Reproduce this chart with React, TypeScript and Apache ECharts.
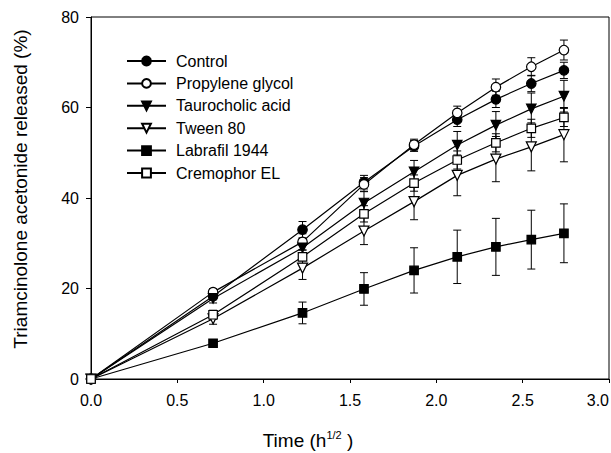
import React, { useEffect, useRef } from "react";
import * as echarts from "echarts";

const times = [0, 0.707, 1.225, 1.581, 1.871, 2.121, 2.345, 2.55, 2.739];
const seriesNames = ["Control", "Propylene glycol", "Taurocholic acid", "Tween 80", "Labrafil 1944", "Cremophor EL"];
const control = [0, 18.3, 33, 43.5, 51.5, 57.3, 61.8, 65.3, 68.2];
const controlSd = [0, 0.8, 1.8, 1.5, 1.2, 1.5, 1.8, 1.8, 1.8];
const propylene = [0, 19.2, 30.3, 43, 51.8, 58.8, 64.5, 69, 72.7];
const propyleneSd = [0, 0.8, 1.8, 1.5, 1.2, 1.5, 1.8, 2, 2.2];
const tauro = [0, 17.8, 29, 38.9, 45.8, 51.7, 56.1, 59.7, 62.5];
const tauroSd = [0, 1, 2, 2.5, 2.5, 3, 3, 3.5, 3.5];
const tween = [0, 13.3, 24.5, 32.7, 39.2, 45, 48.6, 51.3, 54];
const tweenSd = [0, 1.2, 2.5, 3, 4, 4.5, 5, 5.3, 6];
const labrafil = [0, 7.9, 14.6, 19.9, 24, 27, 29.2, 30.8, 32.2];
const labrafilSd = [0, 0.5, 2.4, 3.6, 5, 5.9, 6.3, 6.5, 6.5];
const cremophor = [0, 14.2, 27, 36.5, 43.3, 48.4, 52.2, 55.4, 57.8];
const cremophorSd = [0, 1, 1.5, 1.8, 1.8, 2, 2, 2, 2];
const xTicks = [0, 0.5, 1, 1.5, 2, 2.5, 3];
const yTicks = [0, 20, 40, 60, 80];

const FONT = "Liberation Sans, Arial, sans-serif";

export default function App() {
  const ref = useRef<HTMLDivElement>(null);
  useEffect(() => {
    document.body.style.margin = "0";
    const chart = echarts.init(ref.current!, null, { renderer: "svg" });
    const values = [control, propylene, tauro, tween, labrafil, cremophor];
    const sds = [controlSd, propyleneSd, tauroSd, tweenSd, labrafilSd, cremophorSd];
    const markers = [
      { symbol: "circle", fill: "#000", rotate: 0, size: 9.5 },
      { symbol: "circle", fill: "#fff", rotate: 0, size: 9.5 },
      { symbol: "triangle", fill: "#000", rotate: 180, size: 9.5 },
      { symbol: "triangle", fill: "#fff", rotate: 180, size: 10 },
      { symbol: "rect", fill: "#000", rotate: 0, size: 8.5 },
      { symbol: "rect", fill: "#fff", rotate: 0, size: 8.5 },
    ];
    const errSeries = seriesNames.map((n, i) => ({
      type: "custom",
      name: "err-" + n,
      z: 1,
      silent: true,
      encode: { x: 0, y: 1 },
      data: times.map((t, j) => [t, values[i][j], sds[i][j]]),
      renderItem: (params: any, api: any) => {
        const x = api.value(0);
        const y = api.value(1);
        const e = api.value(2);
        if (!e) return null;
        const top = api.coord([x, y + e]);
        const bot = api.coord([x, y - e]);
        const w = 4;
        const st = { stroke: "#000", lineWidth: 1 };
        return {
          type: "group",
          children: [
            { type: "line", shape: { x1: top[0], y1: top[1], x2: bot[0], y2: bot[1] }, style: st },
            { type: "line", shape: { x1: top[0] - w, y1: top[1], x2: top[0] + w, y2: top[1] }, style: st },
            { type: "line", shape: { x1: bot[0] - w, y1: bot[1], x2: bot[0] + w, y2: bot[1] }, style: st },
          ],
        };
      },
    }));
    const lineSeries = seriesNames.map((n, i) => ({
      type: "line",
      name: n,
      z: 2 + i,
      data: times.map((t, j) => [t, values[i][j]]),
      symbol: markers[i].symbol,
      symbolSize: markers[i].size,
      symbolRotate: markers[i].rotate,
      showAllSymbol: true,
      lineStyle: { color: "#000", width: 1.2 },
      itemStyle: { color: markers[i].fill, borderColor: "#000", borderWidth: 1.2 },
      emphasis: { disabled: true },
    }));
    chart.setOption({
      animation: false,
      grid: {
        left: 91,
        right: 2,
        top: 17,
        bottom: 74,
        show: true,
        borderColor: "#000",
        borderWidth: 1,
        containLabel: false,
        outerBoundsMode: "none",
      },
      legend: {
        data: seriesNames,
        orient: "vertical",
        left: 121,
        top: 48,
        itemWidth: 39,
        itemHeight: 11,
        itemGap: 6.4,
        textStyle: { fontFamily: FONT, fontSize: 16, color: "#000", padding: [0, 0, 0, 5], lineHeight: 16 },
      },
      xAxis: {
        type: "value",
        min: xTicks[0],
        max: xTicks[xTicks.length - 1],
        interval: 0.5,
        name: "{a|Time (h}{s|1/2}{a| )}",
        nameLocation: "middle",
        nameGap: 50,
        nameTextStyle: {
          padding: [0, 84, 0, 0],
          rich: {
            a: { fontFamily: FONT, fontSize: 19, color: "#000", lineHeight: 22 },
            s: { fontFamily: FONT, fontSize: 11, color: "#000", verticalAlign: "top", lineHeight: 14 },
          },
        },
        axisLine: { lineStyle: { color: "#000", width: 1 } },
        axisTick: { length: 4, lineStyle: { color: "#000" } },
        axisLabel: {
          fontFamily: FONT,
          fontSize: 16,
          color: "#000",
          margin: 13,
          alignMaxLabel: "right",
          formatter: (v: number) => v.toFixed(1),
        },
        splitLine: { show: false },
      },
      yAxis: {
        type: "value",
        min: yTicks[0],
        max: yTicks[yTicks.length - 1],
        interval: 20,
        name: "Triamcinolone acetonide released (%)",
        nameLocation: "middle",
        nameGap: 61,
        nameTextStyle: { fontFamily: FONT, fontSize: 19, color: "#000", padding: [0, 0, 0, 18] },
        axisLine: { lineStyle: { color: "#000", width: 1 } },
        axisTick: { length: 5, lineStyle: { color: "#000" } },
        axisLabel: { fontFamily: FONT, fontSize: 16, color: "#000", margin: 12 },
        splitLine: { show: false },
      },
      series: [...errSeries, ...lineSeries],
    });
    return () => chart.dispose();
  }, []);
  return <div ref={ref} style={{ width: 611, height: 453 }} />;
}
